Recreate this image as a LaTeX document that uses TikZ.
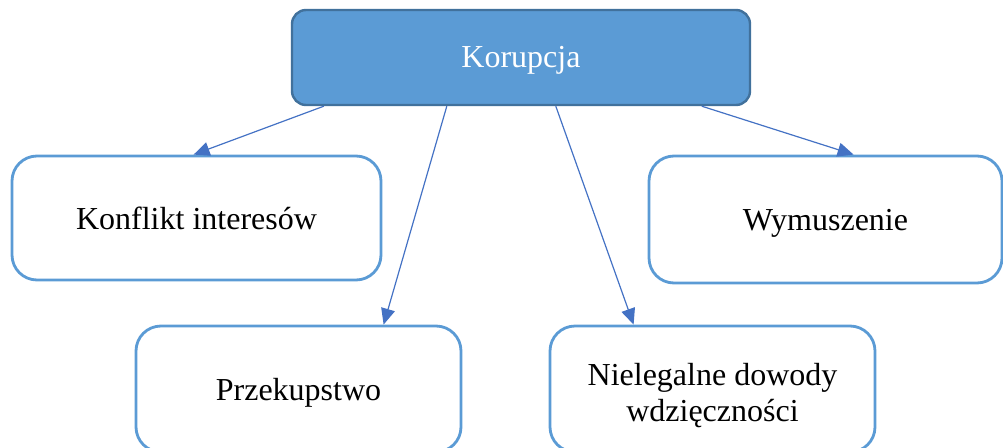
\documentclass[tikz,border=0pt]{standalone}
\usepackage{fontspec}
\setmainfont{Liberation Serif}
\usetikzlibrary{arrows.meta}
\definecolor{mainblue}{HTML}{5B9BD5}
\definecolor{darkblue}{HTML}{41719C}
\definecolor{arrowblue}{HTML}{4472C4}
\begin{document}
\begin{tikzpicture}[x=1pt,y=-1pt,
  topbox/.style={draw=darkblue,line width=2.4pt,fill=mainblue,rounded corners=14pt,
    minimum width=458pt,minimum height=95pt,text=white,font=\fontsize{32}{36}\selectfont,
    inner sep=0pt,text height=19pt,text depth=0pt},
  subbox/.style={draw=mainblue,line width=2.8pt,fill=white,rounded corners=25pt,
    inner sep=0pt,font=\fontsize{32}{36.5}\selectfont,text=black,
    text height=22pt,text depth=0pt},
  conn/.style={draw=arrowblue,line width=1.2pt,-{Triangle[length=16pt,width=14pt]}}]
\useasboundingbox (0,0) rectangle (1003,447);
\clip (0,0) rectangle (1003,447);
\node[topbox] (top) at (521,57.5) {Korupcja};
\node[subbox,minimum width=369pt,minimum height=124pt] (k) at (196.5,218) {Konflikt interesów};
\node[subbox,minimum width=353pt,minimum height=127pt] (w) at (825.5,219.5) {Wymuszenie};
\node[subbox,minimum width=325pt,minimum height=126pt] (p) at (298.5,389) {Przekupstwo};
\node[subbox,minimum width=325pt,minimum height=126pt] (n) at (712.5,389)
  {\raisebox{15pt}{\begin{tabular}[t]{@{}c@{}}Nielegalne dowody\\wdzięczności\end{tabular}}};
\draw[conn] ([xshift=33pt]top.south west) -- ([xshift=183pt]k.north west);
\draw[conn] ([xshift=156pt]top.south west) -- ([xshift=249pt]p.north west);
\draw[conn] ([xshift=265pt]top.south west) -- ([xshift=85pt]n.north west);
\draw[conn] ([xshift=411pt]top.south west) -- ([xshift=206pt]w.north west);
\end{tikzpicture}
\end{document}
